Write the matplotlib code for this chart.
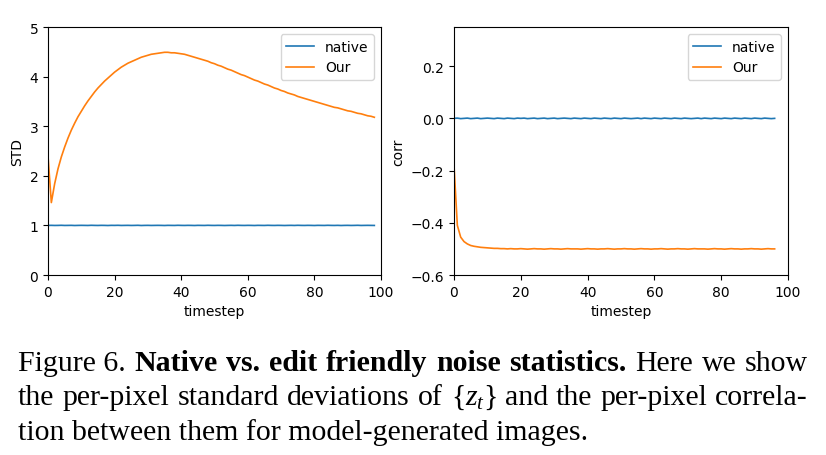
import matplotlib
matplotlib.use("Agg")
import matplotlib.pyplot as plt

# ---------------- data ----------------
std_our = [2.40, 1.46, 1.84, 2.14, 2.38, 2.58, 2.76, 2.92, 3.06, 3.19,
           3.30, 3.41, 3.51, 3.60, 3.69, 3.77, 3.84, 3.91, 3.97, 4.03,
           4.09, 4.14, 4.19, 4.23, 4.27, 4.30, 4.33, 4.36, 4.39, 4.41,
           4.43, 4.45, 4.46, 4.47, 4.48, 4.49, 4.49, 4.48, 4.48, 4.47,
           4.46, 4.45, 4.43, 4.41, 4.39, 4.37, 4.35, 4.33, 4.31, 4.28,
           4.26, 4.23, 4.21, 4.18, 4.15, 4.13, 4.10, 4.07, 4.04, 4.02,
           3.99, 3.96, 3.93, 3.91, 3.88, 3.85, 3.83, 3.80, 3.77, 3.75,
           3.72, 3.70, 3.67, 3.65, 3.63, 3.60, 3.58, 3.56, 3.54, 3.52,
           3.50, 3.48, 3.46, 3.44, 3.42, 3.40, 3.38, 3.37, 3.35, 3.33,
           3.31, 3.30, 3.28, 3.26, 3.25, 3.23, 3.21, 3.20, 3.18]
std_native = [1.000, 1.001, 0.999, 1.000, 1.002, 0.999, 1.000, 1.001, 0.998, 1.000,
              1.001, 1.000, 0.999, 1.002, 1.000, 0.999, 1.001, 1.000, 0.998, 1.001,
              1.000, 1.002, 0.999, 1.000, 1.001, 0.999, 1.000, 1.002, 0.998, 1.000,
              1.001, 0.999, 1.000, 1.001, 1.000, 0.998, 1.001, 1.000, 0.999, 1.002,
              1.000, 0.999, 1.001, 1.000, 0.998, 1.001, 1.000, 0.999, 1.002, 1.000,
              0.999, 1.001, 1.000, 0.998, 1.000, 1.001, 0.999, 1.002, 1.000, 0.999,
              1.001, 1.000, 0.998, 1.001, 1.000, 0.999, 1.002, 1.000, 0.999, 1.001,
              1.000, 0.998, 1.000, 1.001, 0.999, 1.002, 1.000, 0.999, 1.001, 1.000,
              0.998, 1.001, 1.000, 0.999, 1.002, 1.000, 0.999, 1.001, 0.998, 1.000,
              1.001, 0.999, 1.000, 1.002, 0.999, 1.000, 1.001, 1.000, 0.999]

corr_our = [-0.180, -0.410, -0.455, -0.472, -0.481, -0.487, -0.490, -0.492, -0.494, -0.495,
            -0.496, -0.497, -0.498, -0.498, -0.499, -0.499, -0.500, -0.499, -0.500, -0.500,
            -0.499, -0.500, -0.501, -0.500, -0.499, -0.500, -0.500, -0.501, -0.500, -0.499,
            -0.500, -0.500, -0.501, -0.500, -0.499, -0.500, -0.500, -0.500, -0.501, -0.500,
            -0.499, -0.500, -0.500, -0.501, -0.500, -0.500, -0.499, -0.500, -0.501, -0.500,
            -0.500, -0.499, -0.500, -0.500, -0.501, -0.500, -0.499, -0.500, -0.500, -0.501,
            -0.500, -0.500, -0.499, -0.500, -0.501, -0.500, -0.500, -0.499, -0.500, -0.500,
            -0.501, -0.500, -0.499, -0.500, -0.500, -0.500, -0.501, -0.500, -0.499, -0.500,
            -0.500, -0.501, -0.500, -0.499, -0.500, -0.500, -0.501, -0.500, -0.500, -0.499,
            -0.500, -0.500, -0.501, -0.500, -0.499, -0.500, -0.500]
corr_native = [0.000, 0.001, -0.001, 0.000, 0.001, -0.001, 0.000, 0.001, -0.001, 0.000,
               0.001, 0.000, -0.001, 0.001, 0.000, -0.001, 0.001, 0.000, -0.001, 0.001,
               0.000, 0.001, -0.001, 0.000, 0.001, -0.001, 0.000, 0.001, -0.001, 0.000,
               0.001, -0.001, 0.000, 0.001, 0.000, -0.001, 0.001, 0.000, -0.001, 0.001,
               0.000, -0.001, 0.001, 0.000, -0.001, 0.001, 0.000, -0.001, 0.001, 0.000,
               -0.001, 0.001, 0.000, -0.001, 0.000, 0.001, -0.001, 0.001, 0.000, -0.001,
               0.001, 0.000, -0.001, 0.001, 0.000, -0.001, 0.001, 0.000, -0.001, 0.001,
               0.000, -0.001, 0.000, 0.001, -0.001, 0.001, 0.000, -0.001, 0.001, 0.000,
               -0.001, 0.001, 0.000, -0.001, 0.001, 0.000, -0.001, 0.001, 0.000, -0.001,
               0.001, 0.000, -0.001, 0.001, 0.000, -0.001, 0.000]

series_labels = ["native", "Our"]
x_label = "timestep"
y_labels = ["STD", "corr"]

caption_lines = [
    [("Figure 6.", "normal"), ("Native", "bold"), ("vs.", "bold"), ("edit", "bold"),
     ("friendly", "bold"), ("noise", "bold"), ("statistics.", "bold"), ("Here", "normal"),
     ("we", "normal"), ("show", "normal")],
    [("the", "normal"), ("per-pixel", "normal"), ("standard", "normal"), ("deviations", "normal"),
     ("of", "normal"), (r"$\{z_t\}$", "normal"), ("and", "normal"), ("the", "normal"),
     ("per-pixel", "normal"), ("correla-", "normal")],
    [("tion between them for model-generated images.", "normal")],
]

# ---------------- figure ----------------
W, H = 826, 456
fig = plt.figure(figsize=(W / 100, H / 100), dpi=100)
plt.rcParams['font.family'] = ['DejaVu Sans']
plt.rcParams['mathtext.fontset'] = 'custom'
plt.rcParams['mathtext.rm'] = 'Liberation Serif'
plt.rcParams['mathtext.it'] = 'Liberation Serif:italic'

blue, orange = "#1f77b4", "#ff7f0e"

ax1 = fig.add_axes([48 / W, 1 - 276 / H, 333 / W, 248 / H])
ax1.plot(range(len(std_native)), std_native, color=blue, lw=1.2, label=series_labels[0])
ax1.plot(range(len(std_our)), std_our, color=orange, lw=1.2, label=series_labels[1])
ax1.set_xlim(0, 100)
ax1.set_ylim(0, 5)
ax1.set_xlabel(x_label)
ax1.set_ylabel(y_labels[0])
ax1.legend(loc="upper right")

ax2 = fig.add_axes([454 / W, 1 - 276 / H, 334 / W, 248 / H])
ax2.plot(range(len(corr_native)), corr_native, color=blue, lw=1.2, label=series_labels[0])
ax2.plot(range(len(corr_our)), corr_our, color=orange, lw=1.2, label=series_labels[1])
ax2.set_xlim(0, 100)
ax2.set_ylim(-0.6, 0.35)
ax2.set_yticks([-0.6, -0.4, -0.2, 0.0, 0.2])
ax2.set_xlabel(x_label)
ax2.set_ylabel(y_labels[1])
ax2.legend(loc="upper right")

# ---------------- caption (justified) ----------------
fs = 21.5
left_px, right_px = 18, 808
baselines = [371, 405, 440]
renderer = fig.canvas.get_renderer()
for li, (words, base) in enumerate(zip(caption_lines, baselines)):
    texts = []
    for w, weight in words:
        t = fig.text(0, 1 - base / H, w, fontsize=fs, family="Liberation Serif",
                     weight=weight, va="baseline", ha="left")
        texts.append(t)
    widths = [t.get_window_extent(renderer).width for t in texts]
    justify = li < len(caption_lines) - 1 and len(texts) > 1
    if justify:
        gap = (right_px - left_px - sum(widths)) / (len(texts) - 1)
    else:
        gap = 0
    x = left_px
    for t, w in zip(texts, widths):
        t.set_x(x / W)
        x += w + gap

fig.savefig("out.png", dpi=100)
